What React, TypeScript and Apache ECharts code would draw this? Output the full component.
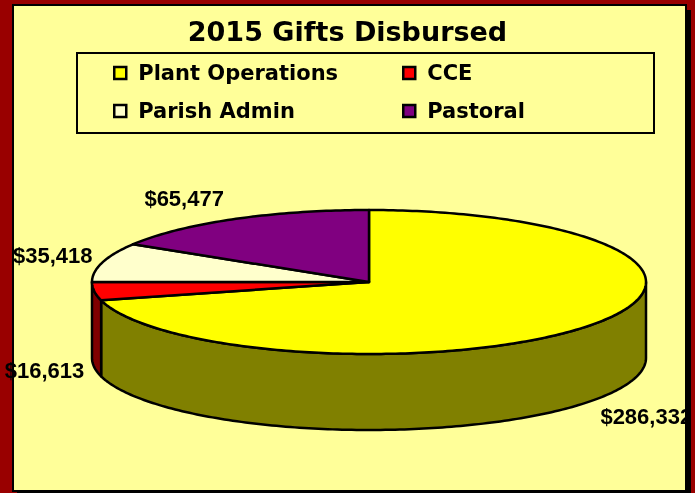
import React, { useEffect, useRef } from "react";
import * as echarts from "echarts";

const categories = ["Plant Operations", "CCE", "Parish Admin", "Pastoral"];
const values = [286332, 16613, 35418, 65477];
const topColors = ["#FFFF00", "#FF0000", "#FFFFCC", "#800080"];
const sideColors = ["#808000", "#800000", "#CCCCA3", "#400040"];
const legendCol1 = ["Plant Operations", "Parish Admin"];
const legendCol2 = ["CCE", "Pastoral"];
const titleText = "2015 Gifts Disbursed";

// pie geometry (layout)
const CX = 369;
const CY = 282;
const RX = 277;
const RY = 72;
const DEPTH = 76;

function arcPoints(a0: number, a1: number, dy: number) {
  const steps = Math.max(2, Math.ceil(((a1 - a0) * 180) / Math.PI));
  const pts: number[][] = [];
  for (let k = 0; k <= steps; k++) {
    const t = a0 + ((a1 - a0) * k) / steps;
    pts.push([CX + RX * Math.sin(t), CY - RY * Math.cos(t) + dy]);
  }
  return pts;
}

function fmt(v: number) {
  return "$" + v.toLocaleString("en-US");
}

export default function App() {
  const ref = useRef<HTMLDivElement>(null);
  useEffect(() => {
    if (!ref.current) return;
    const chart = echarts.init(ref.current, null, { renderer: "svg" });
    const total = values.reduce((a, b) => a + b, 0);

    const renderItem = (params: any, api: any) => {
      const i = params.seriesIndex;
      const v = api.value(0);
      let before = 0;
      for (let k = 0; k < i; k++) before += values[k];
      const a0 = (before / total) * Math.PI * 2;
      const a1 = ((before + v) / total) * Math.PI * 2;
      const children: any[] = [];
      const s = Math.max(a0, Math.PI / 2);
      const e = Math.min(a1, (Math.PI * 3) / 2);
      if (s < e) {
        const top = arcPoints(s, e, 0);
        const bot = arcPoints(s, e, DEPTH).reverse();
        children.push({
          type: "polygon",
          shape: { points: top.concat(bot) },
          style: { fill: sideColors[i], stroke: "#000", lineWidth: 2.5, lineJoin: "round" },
        });
      }
      children.push({
        type: "polygon",
        shape: { points: [[CX, CY]].concat(arcPoints(a0, a1, 0)) },
        style: { fill: topColors[i], stroke: "#000", lineWidth: 2.5, lineJoin: "round" },
      });
      const mid = (a0 + a1) / 2;
      const sn = Math.sin(mid);
      const cs = Math.cos(mid);
      const px = CX + RX * sn + (sn >= 0 ? 12 : -10);
      const py = CY - RY * cs - 24 * cs + (cs < 0 ? DEPTH : 0);
      children.push({
        type: "text",
        x: px,
        y: py,
        style: {
          text: fmt(v),
          fill: "#000",
          font: 'bold 22px "Liberation Sans", Arial, sans-serif',
          align: sn >= 0 ? "left" : "right",
          verticalAlign: "middle",
        },
      });
      return { type: "group", children };
    };

    const legendCommon = {
      orient: "vertical",
      top: 61,
      padding: 0,
      itemWidth: 12,
      itemHeight: 12,
      itemGap: 14,
      icon: "rect",
      selectedMode: false,
      itemStyle: { borderColor: "#000", borderWidth: 2.5 },
      textStyle: {
        fontFamily: "DejaVu Sans",
        fontWeight: "bold",
        fontSize: 21,
        color: "#000",
        lineHeight: 24,
        padding: [0, 0, 0, 7],
      },
    };

    chart.setOption({
      animation: false,
      title: {
        text: titleText,
        left: "center",
        top: 13,
        textStyle: { fontFamily: "DejaVu Sans", fontWeight: "bold", fontSize: 27, color: "#000" },
      },
      legend: [
        { ...legendCommon, left: 113, data: legendCol1 },
        { ...legendCommon, left: 402, data: legendCol2 },
      ],
      graphic: [
        { type: "rect", z: -10, shape: { x: 0, y: 0, width: 695, height: 493 }, style: { fill: "#990000" } },
        { type: "rect", z: -9, shape: { x: 17, y: 10, width: 674, height: 483 }, style: { fill: "#000" } },
        {
          type: "rect",
          z: -8,
          shape: { x: 13, y: 5, width: 673, height: 486 },
          style: { fill: "#FFFF99", stroke: "#000", lineWidth: 2 },
        },
        {
          type: "rect",
          z: -7,
          shape: { x: 77, y: 53, width: 577, height: 80 },
          style: { fill: "none", stroke: "#000", lineWidth: 2 },
        },
        { type: "rect", z: 100, shape: { x: 685, y: 4, width: 2, height: 489 }, style: { fill: "#000" } },
        { type: "rect", z: 100, shape: { x: 687, y: 10, width: 4, height: 483 }, style: { fill: "#000" } },
        { type: "rect", z: 100, shape: { x: 691, y: 0, width: 4, height: 493 }, style: { fill: "#990000" } },
      ],
      series: categories.map((name, i) => ({
        type: "custom",
        name,
        coordinateSystem: "none",
        itemStyle: { color: topColors[i], borderColor: "#000", borderWidth: 2.5 },
        data: [{ value: [values[i]], name }],
        renderItem,
      })),
    });
    return () => chart.dispose();
  }, []);
  return <div ref={ref} style={{ position: "fixed", left: 0, top: 0, width: 695, height: 493 }} />;
}
